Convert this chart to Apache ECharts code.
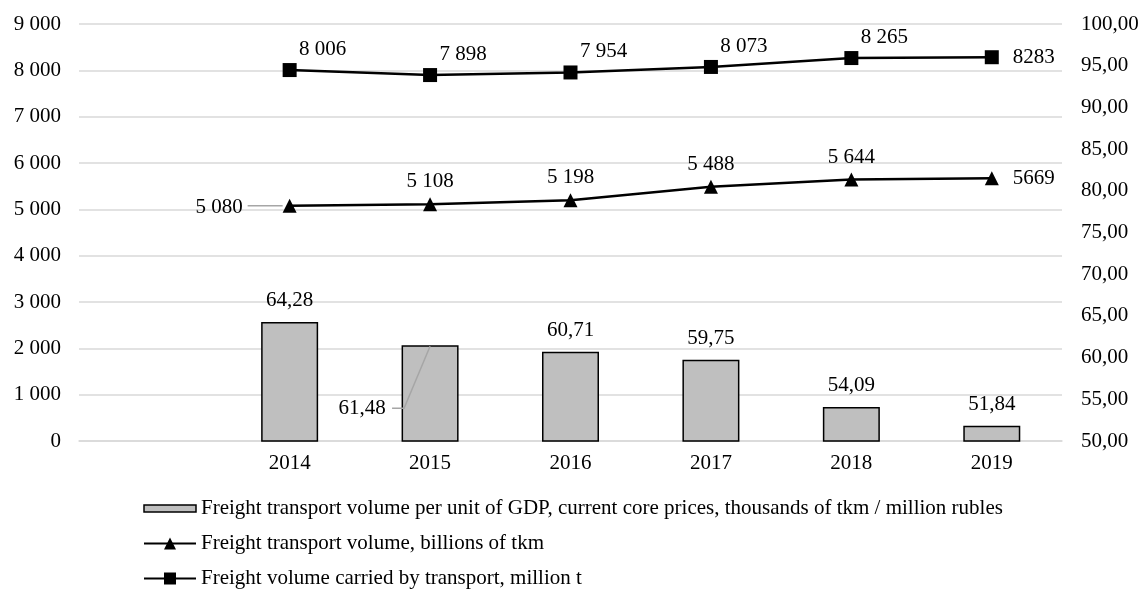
<!DOCTYPE html>
<html>
<head>
<meta charset="utf-8">
<script src="https://cdn.jsdelivr.net/npm/echarts@6/dist/echarts.min.js"></script>
<style>
html,body{margin:0;padding:0;background:#fff;}
#chart{width:1140px;height:604px;}
</style>
</head>
<body>
<div id="chart"></div>
<script>
const categories = ['', '2014', '2015', '2016', '2017', '2018', '2019'];
const gdpIntensity = [null, 64.28, 61.48, 60.71, 59.75, 54.09, 51.84];
const tkmVolume = [null, 5080, 5108, 5198, 5488, 5644, 5669];
const tonnesCarried = [null, 8006, 7898, 7954, 8073, 8265, 8283];
const leftTicks = { min: 0, max: 9000, interval: 1000 };
const rightTicks = { min: 50, max: 100, interval: 5 };
const seriesNames = [
  'Freight transport volume per unit of GDP, current core prices, thousands of tkm / million rubles',
  'Freight transport volume, billions of tkm',
  'Freight volume carried by transport, million t'
];

const FONT = 'Liberation Serif';
const FS = 21;
const spaced = v => String(v).replace(/\B(?=(\d{3})+(?!\d))/g, ' ');
const comma2 = v => v.toFixed(2).replace('.', ',');
const lastIdx = categories.length - 1;
const movedBarIdx = 2;
const movedLineIdx = 1;

function lineData(arr, specialFirst) {
  return arr.map((v, i) => {
    if (v === null) return null;
    const item = { value: v };
    if (i === lastIdx) item.label = { position: 'right', distance: 14, offset: [0, 0] };
    if (specialFirst && i === movedLineIdx) {
      item.label = { position: 'left', distance: 6, offset: [0, 0] };
    }
    return item;
  });
}

const chart = echarts.init(document.getElementById('chart'));
chart.setOption({
  animation: false,
  backgroundColor: '#fff',
  textStyle: { fontFamily: FONT, color: '#000' },
  grid: { left: 79, right: 78, top: 24, bottom: 163, containLabel: false, outerBoundsMode: 'none' },
  xAxis: {
    type: 'category',
    data: categories,
    boundaryGap: true,
    axisTick: { show: false },
    axisLine: { lineStyle: { color: '#d9d9d9', width: 1.5 } },
    axisLabel: { color: '#000', fontFamily: FONT, fontSize: FS, margin: 12 }
  },
  yAxis: [
    {
      type: 'value',
      min: leftTicks.min, max: leftTicks.max, interval: leftTicks.interval,
      axisLine: { show: false }, axisTick: { show: false },
      splitLine: { lineStyle: { color: '#d9d9d9', width: 1.5 } },
      axisLabel: { color: '#000', fontFamily: FONT, fontSize: FS, margin: 18, formatter: v => spaced(v) }
    },
    {
      type: 'value',
      min: rightTicks.min, max: rightTicks.max, interval: rightTicks.interval,
      axisLine: { show: false }, axisTick: { show: false },
      splitLine: { show: false },
      axisLabel: { color: '#000', fontFamily: FONT, fontSize: FS, margin: 19, formatter: v => comma2(v) }
    }
  ],
  legend: {
    orient: 'vertical',
    left: 143,
    top: 498,
    padding: 0,
    itemGap: 14,
    itemWidth: 52,
    itemHeight: 15,
    textStyle: { fontFamily: FONT, fontSize: FS, color: '#000' },
    data: [
      { name: seriesNames[0], icon: 'path://M0,0 L52,0 L52,7 L0,7 Z',
        itemStyle: { color: '#bfbfbf', borderColor: '#000', borderWidth: 1.5 } },
      { name: seriesNames[1] },
      { name: seriesNames[2] }
    ]
  },
  series: [
    {
      name: seriesNames[0],
      type: 'bar',
      yAxisIndex: 1,
      barWidth: 57,
      data: gdpIntensity,
      itemStyle: { color: '#bfbfbf', borderColor: '#000', borderWidth: 1.5 },
      label: {
        show: true, position: 'top', distance: 11,
        fontFamily: FONT, fontSize: FS, color: '#000',
        formatter: p => comma2(p.value)
      },
      labelLayout: p => (p.dataIndex === movedBarIdx ? { dx: -68, dy: 85 } : {})
    },
    {
      name: seriesNames[1],
      type: 'line',
      yAxisIndex: 0,
      data: lineData(tkmVolume, true),
      symbol: 'triangle',
      symbolSize: 14,
      lineStyle: { color: '#000', width: 2.5 },
      itemStyle: { color: '#000' },
      label: {
        show: true, position: 'top', distance: 5, offset: [4, -2],
        fontFamily: FONT, fontSize: FS, color: '#000',
        formatter: p => (p.dataIndex === lastIdx ? String(p.value) : spaced(p.value))
      },
      labelLayout: p => (p.dataIndex === movedLineIdx ? { dx: -34, dy: 2 } : {})
    },
    {
      name: seriesNames[2],
      type: 'line',
      yAxisIndex: 0,
      data: lineData(tonnesCarried, false),
      symbol: 'rect',
      symbolSize: 14,
      lineStyle: { color: '#000', width: 2.5 },
      itemStyle: { color: '#000' },
      label: {
        show: true, position: 'top', distance: 5, offset: [33, 2],
        fontFamily: FONT, fontSize: FS, color: '#000',
        formatter: p => (p.dataIndex === lastIdx ? String(p.value) : spaced(p.value))
      }
    }
  ]
});

// leader lines for the moved labels, anchored through the chart's own scales
const barTopPx = chart.convertToPixel({ xAxisIndex: 0, yAxisIndex: 1 }, [movedBarIdx, gdpIntensity[movedBarIdx]]);
const tkmPx = chart.convertToPixel({ xAxisIndex: 0, yAxisIndex: 0 }, [movedLineIdx, tkmVolume[movedLineIdx]]);
chart.setOption({
  graphic: [
    {
      type: 'polyline',
      silent: true,
      shape: { points: [[barTopPx[0] - 38, barTopPx[1] + 63], [barTopPx[0] - 26, barTopPx[1] + 63], [barTopPx[0], barTopPx[1] + 1]] },
      style: { stroke: '#a6a6a6', lineWidth: 1.5, fill: null },
      z: 10
    },
    {
      type: 'polyline',
      silent: true,
      shape: { points: [[tkmPx[0] - 42, tkmPx[1]], [tkmPx[0] - 7, tkmPx[1]]] },
      style: { stroke: '#a6a6a6', lineWidth: 1.5, fill: null },
      z: 10
    }
  ]
});
</script>
</body>
</html>
